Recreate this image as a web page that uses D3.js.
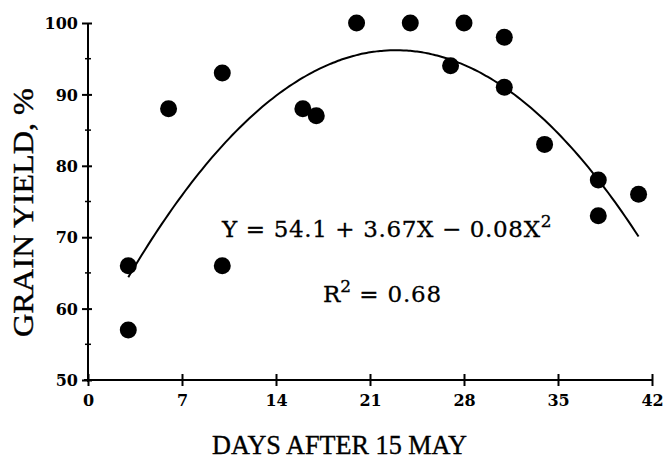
<!DOCTYPE html>
<html>
<head>
<meta charset="utf-8">
<script src="https://cdn.jsdelivr.net/npm/d3@7"></script>
<style>
  body { margin: 0; background: #fff; }
  svg text { fill: #000; }
</style>
</head>
<body>
<svg id="chart" width="665" height="460"></svg>
<script>
// grain yield vs. planting date
var days   = [3, 3, 6, 10, 10, 16, 17, 20, 24, 27, 28, 31, 31, 34, 38, 38, 41];
var yields = [66, 57, 88, 93, 66, 88, 87, 100, 100, 94, 100, 98, 91, 83, 78, 73, 76];

var xTicks = [0, 7, 14, 21, 28, 35, 42];
var yTicks = [50, 60, 70, 80, 90, 100];
var yMinor = [55, 65, 75, 85, 95];

// fitted quadratic, as printed on the figure
var fitCoef = [54.1, 3.67, -0.08];
var fitRange = [3, 41];

var svg = d3.select("#chart");
var plotL = 88, plotT = 23, plotR = 652, plotB = 380;

var x = d3.scaleLinear().domain([0, 42]).range([plotL, plotR]);
var y = d3.scaleLinear().domain([50, 100]).range([plotB, plotT]);

var tickFont = "'DejaVu Serif', serif";
var titleFont = "'Liberation Serif', serif";
var eqFont = "'DejaVu Serif', serif";

// x axis
var xAxis = svg.append("g")
    .attr("transform", "translate(0," + plotB + ")")
    .call(d3.axisBottom(x).tickValues(xTicks).tickSize(0).tickPadding(0));
xAxis.select(".domain").remove();
xAxis.append("line")
    .attr("x1", plotL - 4).attr("x2", plotR)
    .attr("stroke", "#000").attr("stroke-width", 2);
xAxis.selectAll(".tick line").remove();
xAxis.selectAll(".tick").append("line")
    .attr("y1", -6).attr("y2", 6)
    .attr("stroke", "#000").attr("stroke-width", 2);
xAxis.selectAll(".tick text")
    .attr("y", 26)
    .attr("dy", 0)
    .style("font-family", tickFont)
    .style("font-weight", "bold")
    .style("font-size", "16px");

// y axis
var yAxis = svg.append("g")
    .attr("transform", "translate(" + plotL + ",0)")
    .call(d3.axisLeft(y).tickValues(yTicks).tickSize(0).tickPadding(0));
yAxis.select(".domain").remove();
yAxis.append("line")
    .attr("y1", plotT).attr("y2", plotB + 2)
    .attr("stroke", "#000").attr("stroke-width", 2);
yAxis.selectAll(".tick line").remove();
yAxis.selectAll(".tick").append("line")
    .attr("x1", -6).attr("x2", 4)
    .attr("stroke", "#000").attr("stroke-width", 2);
yAxis.selectAll(".tick text")
    .attr("x", -10)
    .attr("dy", "0.36em")
    .style("font-family", tickFont)
    .style("font-weight", "bold")
    .style("font-size", "16px");
yAxis.selectAll(".minor")
    .data(yMinor)
    .enter().append("line")
    .attr("x1", -3).attr("x2", 3)
    .attr("y1", function (d) { return y(d); })
    .attr("y2", function (d) { return y(d); })
    .attr("stroke", "#000").attr("stroke-width", 1.5);

// axis titles (the scan uses a narrow face, so squeeze to the measured width)
svg.append("text")
    .attr("x", 212).attr("y", 454)
    .attr("textLength", 255).attr("lengthAdjust", "spacingAndGlyphs")
    .style("font-family", titleFont)
    .style("font-size", "28px")
    .style("stroke", "#000").style("stroke-width", 0.4)
    .text("DAYS AFTER 15 MAY");

svg.append("text")
    .attr("transform", "translate(33,337) rotate(-90)")
    .attr("textLength", 249).attr("lengthAdjust", "spacingAndGlyphs")
    .style("font-family", titleFont)
    .style("font-size", "29px")
    .style("stroke", "#000").style("stroke-width", 0.4)
    .text("GRAIN YIELD, %");

// regression curve
var fitPts = d3.range(fitRange[0], fitRange[1] + 0.01, 0.25).map(function (d) {
    return [d, fitCoef[0] + fitCoef[1] * d + fitCoef[2] * d * d];
});
svg.append("path")
    .datum(fitPts)
    .attr("fill", "none")
    .attr("stroke", "#000")
    .attr("stroke-width", 2)
    .attr("d", d3.line()
        .x(function (d) { return x(d[0]); })
        .y(function (d) { return y(d[1]); })
        .curve(d3.curveMonotoneX));

// observations
svg.selectAll(".dot")
    .data(days)
    .enter().append("circle")
    .attr("class", "dot")
    .attr("cx", function (d) { return x(d); })
    .attr("cy", function (d, i) { return y(yields[i]); })
    .attr("r", 8.5)
    .attr("fill", "#000");

// equation and R-squared
var eq = svg.append("text")
    .attr("x", 222).attr("y", 237)
    .style("font-family", eqFont)
    .style("font-size", "23px")
    .style("stroke", "#000").style("stroke-width", 0.3);
eq.append("tspan")
    .attr("textLength", 318).attr("lengthAdjust", "spacing")
    .text("Y = 54.1 + 3.67X \u2212 0.08X");
eq.append("tspan").attr("dy", -10).style("font-size", "17px").text("2");

var r2 = svg.append("text")
    .attr("x", 323).attr("y", 302)
    .style("font-family", eqFont)
    .style("font-size", "23px")
    .style("stroke", "#000").style("stroke-width", 0.3);
r2.append("tspan").text("R");
r2.append("tspan").attr("dy", -10).style("font-size", "17px").text("2");
r2.append("tspan").attr("dy", 10)
    .attr("textLength", 90).attr("lengthAdjust", "spacing")
    .text(" = 0.68");
</script>
</body>
</html>
